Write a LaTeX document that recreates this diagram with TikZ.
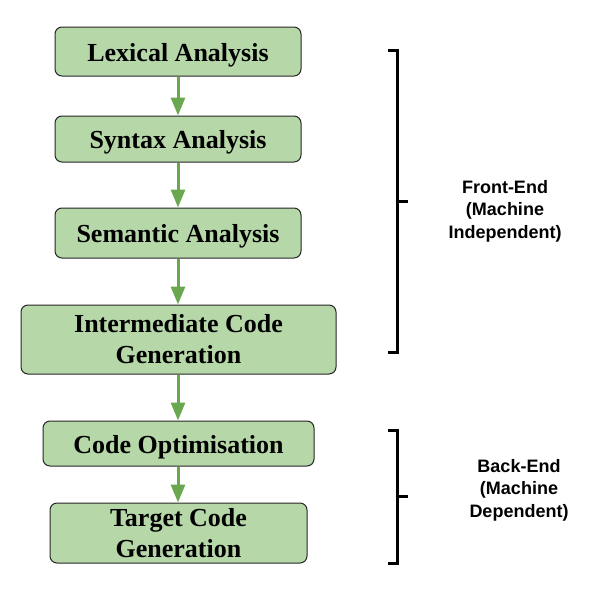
\documentclass[tikz,border=0pt]{standalone}
\usepackage{fontspec}
\setmainfont{Liberation Serif}
\setsansfont{Liberation Sans}
\usepackage{xcolor}
\usepackage{tikz}
\usetikzlibrary{positioning,
                arrows.meta,
                calc}
\definecolor{boxfill}{HTML}{B6D7A8}
\definecolor{flowgreen}{HTML}{6AA84F}
\begin{document}
\begin{tikzpicture}[x=1pt,y=-1pt,
  box/.style={draw=black!85,line width=1pt,fill=boxfill,rounded corners=7pt,
    inner sep=0pt,align=center,
    font=\fontsize{26}{31}\selectfont\bfseries},
  oneline/.style={box,text height=19pt,text depth=0pt},
  flow/.style={draw=flowgreen,line width=3pt,-{Triangle[length=18pt,width=14pt]}},
  bracket/.style={draw=black,line width=3pt},
  side/.style={align=center,font=\sffamily\bfseries\fontsize{18}{22.5}\selectfont}]
\useasboundingbox (0,0) rectangle (593,611);
\node [oneline,minimum width=246pt,minimum height=49pt] (lex) at (178,51.5) {Lexical Analysis};
\node [oneline,minimum width=246pt,minimum height=46pt] (syn) at (178,139) {Syntax Analysis};
\node [oneline,minimum width=246pt,minimum height=50pt] (sem) at (178,233) {Semantic Analysis};
\node [box,minimum width=315pt,minimum height=69pt] (icg) at (178.5,339.5) {Intermediate Code\\Generation};
\node [oneline,minimum width=271pt,minimum height=45pt] (opt) at (178.5,443.5) {Code Optimisation};
\node [box,minimum width=257pt,minimum height=60pt] (tcg) at (178.5,533) {Target Code\\Generation};
\foreach \a/\b in {lex/syn,syn/sem,sem/icg,icg/opt,opt/tcg}
  \draw [flow] (\a.south -| 178,0) -- (\b.north -| 178,0);
% front-end bracket
\coordinate (ft) at (397,50); \coordinate (fb) at (397,352);
\draw [bracket] ($(ft)+(-9,0)$) -- (ft) -- (fb) -- ($(fb)+(-9,0)$);
\draw [bracket] ($(ft)!.5!(fb)$) -- ++(11,0);
\node [side] (fe) at (505,211) {Front-End\\(Machine\\Independent)};
% back-end bracket
\coordinate (bt) at (397,430); \coordinate (bb) at (397,563);
\draw [bracket] ($(bt)+(-9,0)$) -- (bt) -- (bb) -- ($(bb)+(-9,0)$);
\draw [bracket] ($(bt)!.5!(bb)$) -- ++(11,0);
\node [side] (be) at (519,490) {Back-End\\(Machine\\Dependent)};
\end{tikzpicture}
\end{document}
